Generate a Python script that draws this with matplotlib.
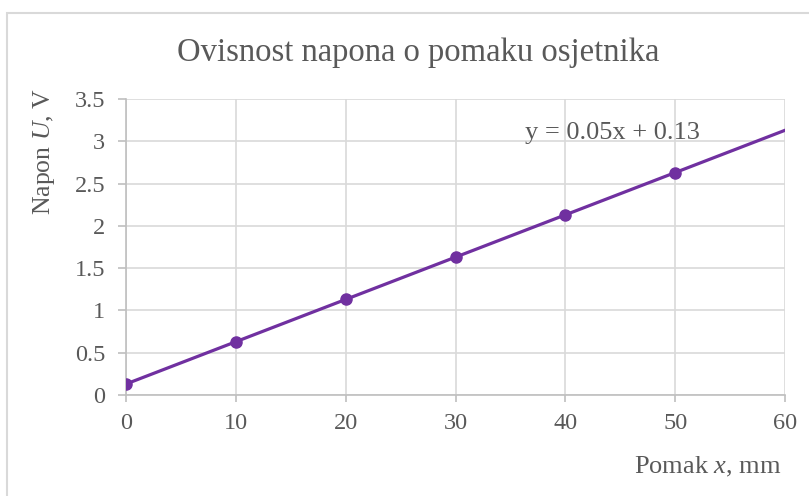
import numpy as np
import matplotlib
matplotlib.use("Agg")
import matplotlib.pyplot as plt
from matplotlib.patches import Rectangle

plt.rcParams['font.family'] = ['Liberation Serif', 'DejaVu Serif']
plt.rcParams['mathtext.fontset'] = 'custom'
plt.rcParams['mathtext.rm'] = 'Liberation Serif'
plt.rcParams['mathtext.it'] = 'Liberation Serif:italic'

# data
pomak = [0, 10, 20, 30, 40, 50]
napon = [0.13, 0.63, 1.13, 1.63, 2.13, 2.63]
x_ticks = [0, 10, 20, 30, 40, 50, 60]
y_ticks = [0, 0.5, 1, 1.5, 2, 2.5, 3, 3.5]
y_labels = ["0", "0.5", "1", "1.5", "2", "2.5", "3", "3.5"]

txt = "#595959"
purple = "#7030A0"

W, H = 809, 496
fig = plt.figure(figsize=(W / 100, H / 100), dpi=100)

# outer chart border (cut off right/bottom)
fig.patches.append(Rectangle((7 / W, -0.1), 1.2, 1 - 13 / H + 0.1, transform=fig.transFigure,
                             fill=False, edgecolor="#d9d9d9", linewidth=1.5))

ax = fig.add_axes([126 / W, 1 - 395 / H, (785 - 126) / W, (395 - 99) / H])

# trend line
k, n = np.polyfit(pomak, napon, 1)
xt = np.array([0, 60])
ax.plot(xt, k * xt + n, color=purple, linewidth=2.3, zorder=3)
ax.plot(pomak, napon, 'o', color=purple, markersize=8, zorder=4)

ax.set_xlim(0, 60)
ax.set_ylim(0, 3.5)
ax.set_xticks(x_ticks)
ax.set_yticks(y_ticks)
ax.set_yticklabels(y_labels)
ax.grid(True, color="#d9d9d9", linewidth=1.2)
ax.set_axisbelow(True)
for s in ["top", "right"]:
    ax.spines[s].set_visible(False)
for s in ["left", "bottom"]:
    ax.spines[s].set_color("#bfbfbf")
    ax.spines[s].set_linewidth(1.2)
ax.tick_params(axis="both", colors="#bfbfbf", labelcolor=txt, labelsize=17.5,
               width=1.2, direction="out")
ax.tick_params(axis="x", length=5, pad=8)
ax.tick_params(axis="y", length=6, pad=9)

fig.text(525 / W, 1 - 133 / H, "y = 0.05x + 0.13", fontsize=19, color=txt,
         va="center", ha="left")

fig.text(418 / W, 1 - 53 / H, "Ovisnost napona o pomaku osjetnika", fontsize=23.5,
         color=txt, ha="center", va="center")
fig.text(44 / W, 1 - 152 / H, r"Napon $U$, V", fontsize=18.5, color=txt,
         rotation=90, ha="center", va="center")
fig.text(781 / W, 1 - 467 / H, r"Pomak $x$, mm", fontsize=19, color=txt,
         ha="right", va="center")

fig.savefig("out.png", dpi=100)
